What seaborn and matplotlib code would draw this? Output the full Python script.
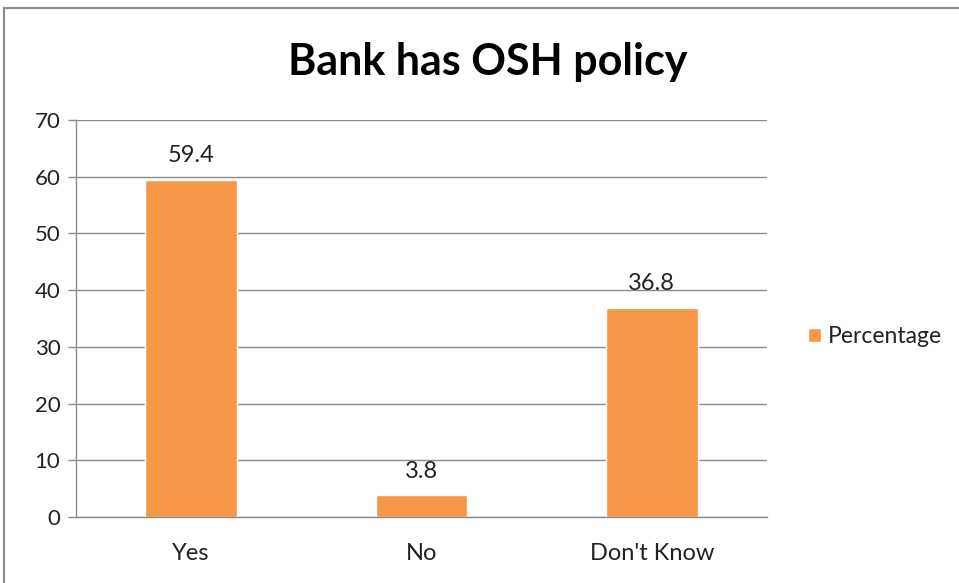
import matplotlib
matplotlib.use("Agg")
import matplotlib.pyplot as plt
from matplotlib.patches import Rectangle
import seaborn as sns
import pandas as pd

categories = ["Yes", "No", "Don't Know"]
percentages = [59.4, 3.8, 36.8]
y_ticks = [0, 10, 20, 30, 40, 50, 60, 70]
title = "Bank has OSH policy"
series_name = "Percentage"

sns.set_theme(style="white")
plt.rcParams["font.family"] = ["Lato", "DejaVu Sans"]

bar_color = "#F79646"
grid_color = "#8C8C8C"
text_color = "#222222"

df = pd.DataFrame({"Category": categories, series_name: percentages})

fig = plt.figure(figsize=(9.59, 5.83), dpi=100)
ax = fig.add_axes([0.0789, 0.1132, 0.7209, 0.6808])

sns.barplot(data=df, x="Category", y=series_name, color=bar_color,
            width=0.397, saturation=1, ax=ax, label=series_name)

ax.set_xlim(-0.5, len(categories) - 0.5)
ax.set_ylim(0, 70)
ax.set_yticks(y_ticks)
ax.set_yticklabels([str(t) for t in y_ticks], fontsize=16, color=text_color)
ax.set_xticks(range(len(categories)))
ax.set_xticklabels(categories, fontsize=17, color=text_color)
ax.set_xticks([i - 0.5 for i in range(len(categories) + 1)], minor=True)
ax.tick_params(axis="x", which="major", length=0, pad=19)
ax.tick_params(axis="x", which="minor", length=7, width=1, color=grid_color, direction="out")
ax.tick_params(axis="y", length=6, width=1, color=grid_color, direction="out", pad=5, left=True)
ax.set_xlabel("")
ax.set_ylabel("")

ax.yaxis.grid(True, color=grid_color, linewidth=1)
ax.set_axisbelow(True)
for side in ["top", "right"]:
    ax.spines[side].set_visible(False)
for side in ["left", "bottom"]:
    ax.spines[side].set_color(grid_color)
    ax.spines[side].set_linewidth(1)

for container in ax.containers:
    ax.bar_label(container, labels=[f"{v:.1f}" for v in percentages],
                 padding=10, fontsize=17, color=text_color)

leg = ax.legend(loc="center left", bbox_to_anchor=(1.03, 0.455), frameon=False,
                fontsize=16.5, handlelength=0.57, handleheight=0.57, handletextpad=0.3)
for t in leg.get_texts():
    t.set_color(text_color)

fig.text(0.509, 0.894, title, ha="center", va="center", fontsize=31,
         fontweight="bold", color="black")

# outer chart frame
fig.patches.append(Rectangle((4 / 959, -0.1), 1.2, (583 - 8) / 583 + 0.1,
                             transform=fig.transFigure, fill=False,
                             edgecolor="#8A8A8A", linewidth=1.5))

fig.savefig("out.png", dpi=100)
